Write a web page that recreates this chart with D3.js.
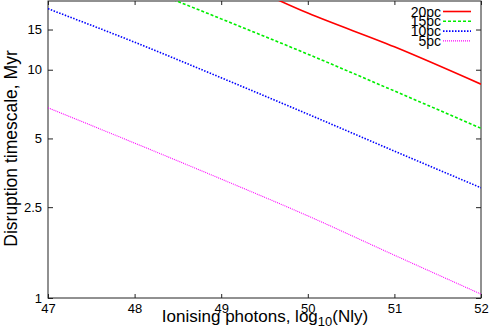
<!DOCTYPE html>
<html>
<head>
<meta charset="utf-8">
<script src="https://cdn.jsdelivr.net/npm/d3@7"></script>
<style>
    body { margin: 0; background: #fff; }
    svg { display: block; font-family: "Liberation Sans", Arial, sans-serif; }
    .axis text { font-size: 13px; fill: #000; }
    .axis path, .axis line { stroke: #222; }
</style>
</head>
<body>
<div id="disruption-chart"></div>
<script>

// values, one per ionising photon rate
var ionisingPhotons = [47, 48, 49, 50, 51, 52];
var seriesNames = ["20pc", "15pc", "10pc", "5pc"];
var timescale20pc = [55, 38, 26.2, 17.7, 12.6, 8.64];
var timescale15pc = [33.5, 23.7, 16.7, 11.7, 8.07, 5.54];
var timescale10pc = [18.5, 13.2, 9.22, 6.39, 4.40, 3.04];
var timescale5pc = [6.81, 4.77, 3.32, 2.29, 1.54, 1.04];
var xTicks = [47, 48, 49, 50, 51, 52];
var yTicks = [1, 2.5, 5, 10, 15];

DisruptionChart = function(_parentElement) {
    this.parentElement = _parentElement;
    this.initVis();
};

DisruptionChart.prototype.initVis = function() {

    var vis = this;

    vis.margin = {top: 1, right: 10, bottom: 35, left: 48};
    vis.width = 491 - vis.margin.left - vis.margin.right;
    vis.height = 333 - vis.margin.top - vis.margin.bottom;

    vis.svg = d3.select("#" + vis.parentElement).append("svg")
        .attr("width", 491)
        .attr("height", 333)
        .append("g")
        .attr("transform", "translate(" + vis.margin.left + "," + vis.margin.top + ")");

    vis.x = d3.scaleLinear().domain([47, 52]).range([0, vis.width]);
    vis.y = d3.scaleLog().domain([1, 20]).range([vis.height, 0]);

    //ticks point inwards, mirrored on top and right
    vis.svg.append("g")
        .attr("class", "x-axis axis")
        .attr("transform", "translate(0," + vis.height + ")")
        .call(d3.axisBottom(vis.x).tickValues(xTicks).tickSize(-4).tickPadding(6).tickFormat(d3.format("d")));

    vis.svg.append("g")
        .attr("class", "axis")
        .call(d3.axisTop(vis.x).tickValues(xTicks).tickSize(-4).tickFormat(""));

    vis.svg.append("g")
        .attr("class", "y-axis axis")
        .call(d3.axisLeft(vis.y).tickValues(yTicks).tickSize(-5).tickPadding(6).tickFormat(function(d) { return d; }));

    vis.svg.append("g")
        .attr("class", "axis")
        .attr("transform", "translate(" + vis.width + ",0)")
        .call(d3.axisRight(vis.y).tickValues(yTicks).tickSize(-5).tickFormat(""));

    vis.svg.selectAll(".axis .domain").remove();

    vis.svg.append("rect")
        .attr("width", vis.width)
        .attr("height", vis.height)
        .attr("fill", "none")
        .attr("stroke", "#222")
        .attr("stroke-width", 1);

    //axis labels
    vis.svg.append("text")
        .attr("transform", "translate(" + (17 - vis.margin.left) + "," + 147.5 + ") rotate(-90)")
        .attr("text-anchor", "middle")
        .style("font-size", "17.5px")
        .text("Disruption timescale, Myr");

    var xLabel = vis.svg.append("text")
        .attr("x", 265 - vis.margin.left)
        .attr("y", 321)
        .attr("text-anchor", "middle")
        .style("font-size", "17px");
    xLabel.append("tspan").text("Ionising photons, log");
    xLabel.append("tspan").attr("dy", 4).style("font-size", "13px").text("10");
    xLabel.append("tspan").attr("dy", -4).text("(Nly)");

    vis.svg.append("clipPath")
        .attr("id", "plot-clip")
        .append("rect")
        .attr("width", vis.width)
        .attr("height", vis.height);

    vis.wrangleData();
};

DisruptionChart.prototype.wrangleData = function() {

    var vis = this;

    var values = [timescale20pc, timescale15pc, timescale10pc, timescale5pc];
    var styles = [
        {color: "#ff0000", width: 1.6, dash: null},
        {color: "#00ee00", width: 1.6, dash: "3,2"},
        {color: "#0000ff", width: 1.6, dash: "1.5,1.5"},
        {color: "#ff00ff", width: 1.1, dash: "1,1"}
    ];

    vis.displayData = seriesNames.map(function(name, i) {
        return {
            name: name,
            style: styles[i],
            points: ionisingPhotons.map(function(p, j) {
                return {x: p, y: values[i][j]};
            })
        };
    });

    vis.updateVis();
};

DisruptionChart.prototype.updateVis = function() {

    var vis = this;

    var line = d3.line()
        .curve(d3.curveMonotoneX)
        .x(function(d) { return vis.x(d.x); })
        .y(function(d) { return vis.y(d.y); });

    vis.svg.append("g")
        .attr("clip-path", "url(#plot-clip)")
        .selectAll("path")
        .data(vis.displayData)
        .enter()
        .append("path")
        .attr("d", function(d) { return line(d.points); })
        .attr("fill", "none")
        .attr("stroke", function(d) { return d.style.color; })
        .attr("stroke-width", function(d) { return d.style.width; })
        .attr("stroke-dasharray", function(d) { return d.style.dash; });

    //legend in the top right corner
    var legend = vis.svg.selectAll(".legend")
        .data(vis.displayData)
        .enter()
        .append("g")
        .attr("class", "legend")
        .attr("transform", function(d, i) { return "translate(0," + (10.5 + i * 9.8) + ")"; });

    legend.append("text")
        .attr("x", 441 - vis.margin.left)
        .attr("y", 5)
        .attr("text-anchor", "end")
        .style("font-size", "14px")
        .text(function(d) { return d.name; });

    legend.append("line")
        .attr("x1", 443 - vis.margin.left)
        .attr("x2", 471 - vis.margin.left)
        .attr("stroke", function(d) { return d.style.color; })
        .attr("stroke-width", function(d) { return d.style.width; })
        .attr("stroke-dasharray", function(d) { return d.style.dash; });
};

new DisruptionChart("disruption-chart");

</script>
</body>
</html>
